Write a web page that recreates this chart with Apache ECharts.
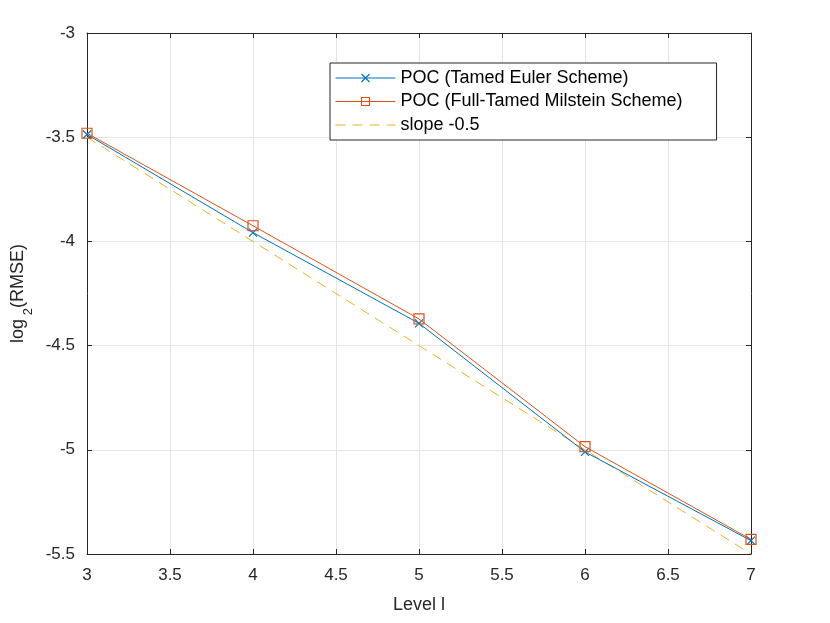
<!DOCTYPE html>
<html><head><meta charset="utf-8">
<script src="https://cdn.jsdelivr.net/npm/echarts@6/dist/echarts.min.js"></script>
<style>html,body{margin:0;padding:0;background:#fff}#c{width:830px;height:623px}</style>
</head><body><div id="c"></div>
<script>
var levels = [3, 4, 5, 6, 7];
var eulerVals = [-3.487, -3.958, -4.393, -5.010, -5.436];
var milsteinVals = [-3.481, -3.925, -4.372, -4.985, -5.430];
var slopeVals = [-3.5, -4.0, -4.5, -5.0, -5.5];
var seriesNames = ['POC (Tamed Euler Scheme)', 'POC (Full-Tamed Milstein Scheme)', 'slope -0.5'];
var colors = ['#0072BD', '#D95319', '#EDB120'];

function pairs(v){ return levels.map(function(x,i){ return [x, v[i]]; }); }
var font = 'Liberation Sans, Arial, Helvetica, sans-serif';
var axLine = {show:true, onZero:false, lineStyle:{color:'#262626', width:1}};
var axTick = {show:true, inside:true, length:5, lineStyle:{color:'#262626'}};
var chart = echarts.init(document.getElementById('c'));
chart.setOption({
  animation:false,
  backgroundColor:'#fff',
  grid:{left:87, right:79, top:33, bottom:69},
  legend:{
    data:[
      {name:seriesNames[0], lineStyle:{width:1, color:colors[0]}, itemStyle:{color:'none', borderColor:colors[0], borderWidth:1.2}},
      {name:seriesNames[1], lineStyle:{width:1, color:colors[1]}, itemStyle:{color:'none', borderColor:colors[1], borderWidth:1.2}},
      {name:seriesNames[2], lineStyle:{width:1, color:colors[2], type:[10,7]}, itemStyle:{opacity:0}}
    ],
    orient:'vertical', left:330, top:63,
    backgroundColor:'#fff', borderColor:'#262626', borderWidth:1, borderRadius:0,
    padding:[6,34,6,5], itemGap:5.5, itemWidth:60, itemHeight:10,
    textStyle:{fontFamily:font, fontSize:18, color:'#000'}
  },
  xAxis:[
    {type:'value', min:3, max:7, interval:0.5, position:'bottom',
      name:'Level l', nameLocation:'middle', nameGap:42,
      nameTextStyle:{fontFamily:font, fontSize:18, color:'#262626'},
      axisLabel:{fontFamily:font, fontSize:17, color:'#262626', margin:13},
      splitLine:{show:true, lineStyle:{color:'#e5e5e5'}},
      axisLine:axLine, axisTick:axTick},
    {type:'value', min:3, max:7, interval:0.5, position:'top',
      axisLabel:{show:false}, splitLine:{show:false},
      axisLine:axLine, axisTick:axTick}
  ],
  yAxis:[
    {type:'value', min:-5.5, max:-3, interval:0.5, position:'left',
      name:'{a|log}{s| 2}{a|(RMSE)}', nameLocation:'middle', nameGap:60, nameRotate:90,
      nameTextStyle:{rich:{a:{fontFamily:font, fontSize:18, color:'#262626'},
        s:{fontFamily:font, fontSize:13, color:'#262626', verticalAlign:'bottom', padding:[0,0,-8,0]}}},
      axisLabel:{fontFamily:font, fontSize:17, color:'#262626', margin:12},
      axisLine:axLine, axisTick:axTick,
      splitLine:{show:true, lineStyle:{color:'#e5e5e5'}}},
    {type:'value', min:-5.5, max:-3, interval:0.5, position:'right',
      axisLabel:{show:false}, splitLine:{show:false},
      axisLine:axLine, axisTick:axTick}
  ],
  series:[
    {name:seriesNames[0], type:'line', data:pairs(eulerVals), symbol:'path://M0,0L10,10M10,0L0,10', symbolSize:8,
      color:colors[0], lineStyle:{width:1, color:colors[0]},
      itemStyle:{color:'none', borderColor:colors[0], borderWidth:1.2}, z:3},
    {name:seriesNames[1], type:'line', data:pairs(milsteinVals), symbol:'rect', symbolSize:10,
      color:colors[1], lineStyle:{width:1, color:colors[1]},
      itemStyle:{color:'none', borderColor:colors[1], borderWidth:1.2}, z:4},
    {name:seriesNames[2], type:'line', data:pairs(slopeVals), symbol:'none',
      color:colors[2], lineStyle:{width:1, color:colors[2], type:[10,7]}, z:2}
  ]
});
</script></body></html>
